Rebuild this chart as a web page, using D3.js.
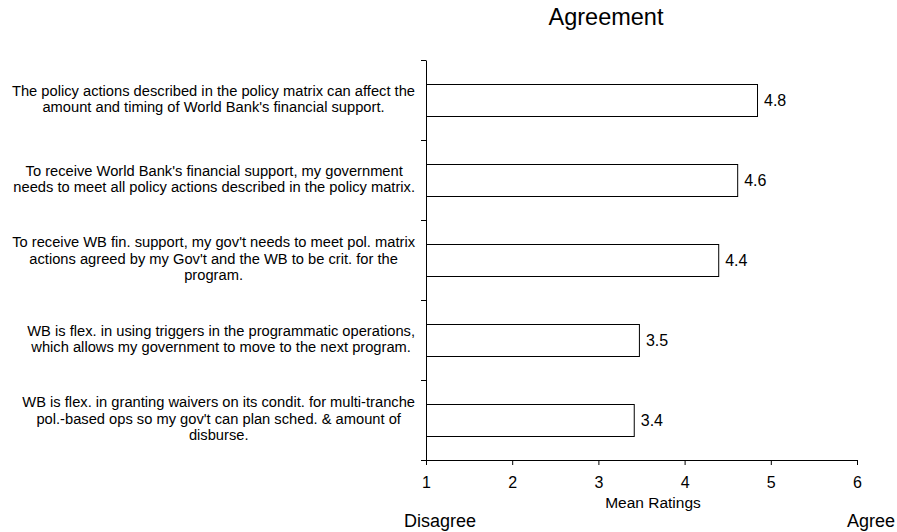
<!DOCTYPE html>
<html>
<head>
<meta charset="utf-8">
<script src="https://cdn.jsdelivr.net/npm/d3@7"></script>
<style>
  html, body { margin: 0; padding: 0; background: #fff; }
  svg { display: block; font-family: "Liberation Sans", Arial, sans-serif; }
</style>
</head>
<body>
<svg id="chart" width="897" height="532"></svg>
<script>
// ---- data ----
const categoryLines = [
  ["The policy actions described in the policy matrix can affect the", "amount and timing of World Bank's financial support."],
  ["To receive World Bank's financial support, my government", "needs to meet all policy actions described in the policy matrix."],
  ["To receive WB fin. support, my gov't needs to meet pol. matrix", "actions agreed by my Gov't and the WB to be crit. for the", "program."],
  ["WB is flex. in using triggers in the programmatic operations,", "which allows my government to move to the next program."],
  ["WB is flex. in granting waivers on its condit. for multi-tranche", "pol.-based ops so my gov't can plan sched. & amount of", "disburse."]
];
const meanRatings = [4.84, 4.61, 4.39, 3.47, 3.41];
const xTickValues = [1, 2, 3, 4, 5, 6];
const titleText = "Agreement";
const xAxisTitle = "Mean Ratings";
const leftEndLabel = "Disagree";
const rightEndLabel = "Agree";

// ---- layout ----
const svg = d3.select("#chart");
const plotLeft = 426, plotRight = 857, plotTop = 60, plotBottom = 460;

const x = d3.scaleLinear().domain([1, 6]).range([plotLeft, plotRight]);
const y = d3.scaleBand().domain(d3.range(categoryLines.length)).range([plotTop, plotBottom])
  .paddingInner(0.6).paddingOuter(0.3);
const yTicks = d3.scaleLinear().domain([0, categoryLines.length]).range([plotTop, plotBottom]);

// title
svg.append("text").attr("x", 606).attr("y", 25).attr("text-anchor", "middle")
  .attr("font-size", 23.5).attr("fill", "#000").text(titleText);

// bars
svg.append("g").selectAll("rect").data(meanRatings).join("rect")
  .attr("x", x(1) + 0.5)
  .attr("y", (d, i) => Math.round(y(i)) + 0.5)
  .attr("width", d => x(d) - x(1))
  .attr("height", y.bandwidth())
  .attr("fill", "#fff").attr("stroke", "#000").attr("stroke-width", 1);

// value labels
svg.append("g").selectAll("text").data(meanRatings).join("text")
  .attr("x", d => x(d) + 7)
  .attr("y", (d, i) => y(i) + y.bandwidth() / 2 + 6)
  .attr("font-size", 16).attr("fill", "#000")
  .text(d => d3.format(".1f")(d));

// y axis (category boundaries)
svg.append("g").attr("transform", `translate(${plotLeft},0)`)
  .call(d3.axisLeft(yTicks).ticks(categoryLines.length).tickFormat("").tickSizeInner(5).tickSizeOuter(0))
  .call(g => g.selectAll("line,path").attr("stroke", "#000"));

// x axis
svg.append("g").attr("transform", `translate(0,${plotBottom})`)
  .call(d3.axisBottom(x).tickValues(xTickValues).tickFormat(d3.format("d")).tickSizeInner(5).tickSizeOuter(0).tickPadding(12))
  .call(g => g.selectAll("line,path").attr("stroke", "#000"))
  .call(g => g.selectAll("text").attr("font-size", 16).attr("fill", "#000")
     .attr("font-family", "Liberation Sans, Arial, sans-serif"));

// category labels (wrapped blocks, right-aligned block, centered lines)
const labelRight = 415, fs = 14.7, lh = 16.5;
const lg = svg.append("g").attr("font-size", fs).attr("fill", "#000");
categoryLines.forEach((lines, i) => {
  const g = lg.append("g");
  const cy = y(i) + y.bandwidth() / 2;
  const texts = lines.map((ln, k) => g.append("text")
    .attr("y", cy + (k - (lines.length - 1) / 2) * lh + fs * 0.26)
    .attr("text-anchor", "middle").text(ln));
  const maxW = d3.max(texts, t => t.node().getComputedTextLength());
  texts.forEach(t => t.attr("x", labelRight - maxW / 2));
});

// axis titles
svg.append("text").attr("x", 653).attr("y", 508).attr("text-anchor", "middle")
  .attr("font-size", 15.5).attr("fill", "#000").text(xAxisTitle);
svg.append("text").attr("x", 404).attr("y", 527).attr("text-anchor", "start")
  .attr("font-size", 18).attr("fill", "#000").text(leftEndLabel);
svg.append("text").attr("x", 895).attr("y", 527).attr("text-anchor", "end")
  .attr("font-size", 18).attr("fill", "#000").text(rightEndLabel);
</script>
</body>
</html>
